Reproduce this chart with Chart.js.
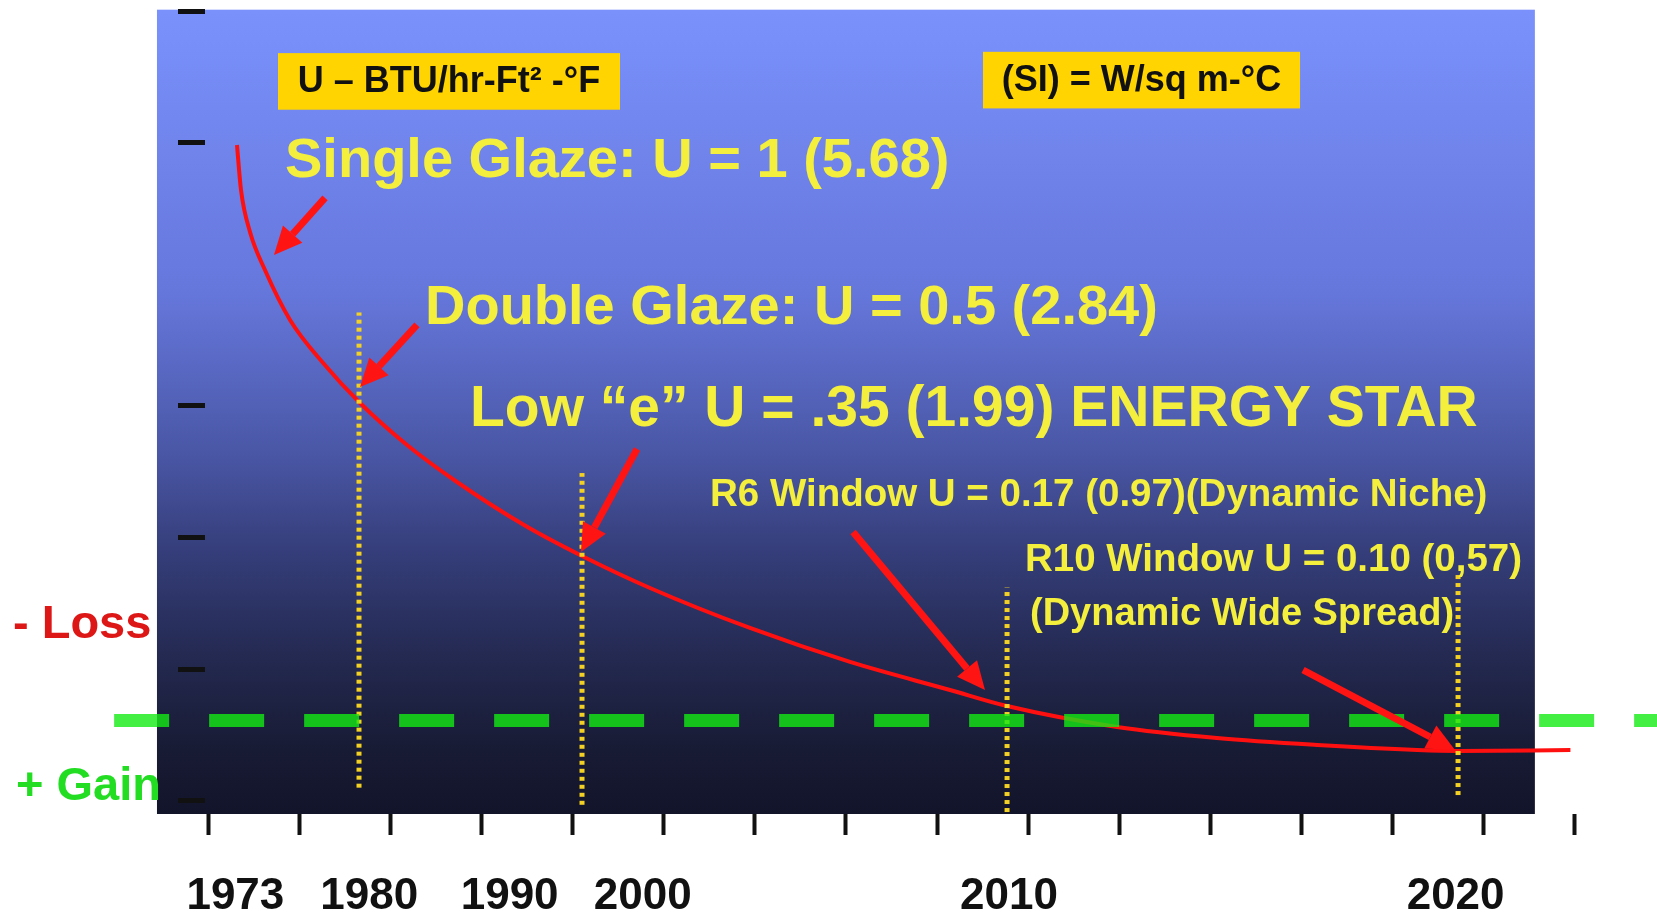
<!DOCTYPE html>
<html>
<head>
<meta charset="utf-8">
<script src="https://cdn.jsdelivr.net/npm/chart.js@4/dist/chart.umd.min.js"></script>
<style>
  html, body { margin: 0; padding: 0; background: #fff; }
  #wrap { width: 1657px; height: 915px; position: relative; }
</style>
</head>
<body>
<div id="wrap"><canvas id="glazeChart"></canvas></div>
<script>
// x is in "tick steps" along the bottom axis, y in steps of the left dashes
const yearLabels = ["1973", "1980", "1990", "2000", "2010", "2020"];
const yearLabelAt = [0.3, 1.77, 3.31, 4.77, 8.79, 13.69];
const xTickValues = [0, 1, 2, 3, 4, 5, 6, 7, 8, 9, 10, 11, 12, 13, 14, 15];
const yTickValues = [0, 1, 2, 3, 5, 6];

// window heat loss curve
const curveX = [0.318, 0.362, 0.461, 0.625, 0.900, 1.273, 1.668, 2.184, 2.732, 3.468, 4.104, 4.850, 5.947, 7.045, 8.142, 8.768, 9.975, 11.07, 12.17, 13.27, 13.71, 14.95];
const curveY = [4.982, 4.640, 4.321, 4.032, 3.653, 3.318, 3.022, 2.703, 2.422, 2.095, 1.860, 1.617, 1.313, 1.055, 0.842, 0.720, 0.561, 0.477, 0.424, 0.386, 0.379, 0.386];

// loss / gain boundary
const breakEven = 0.61;
const breakEvenFrom = -1.03;
const breakEvenTo = 15.9;

// dotted year markers
const markerX = [1.657, 4.104, 8.768, 13.717];
const markerTop = [3.71, 2.49, 1.62, 1.72];
const markerBottom = [0.10, -0.03, -0.085, 0.044];

const notes = [
    { text: "Single Glaze: U = 1 (5.68)", x: 0.845, y: 4.86, size: 56 },
    { text: "Double Glaze: U = 0.5 (2.84)", x: 2.381, y: 3.736, size: 56 },
    { text: "Low \u201ce\u201d U = .35 (1.99) ENERGY STAR", x: 2.875, y: 2.969, size: 57 },
    { text: "R6 Window U = 0.17 (0.97)(Dynamic Niche)", x: 5.509, y: 2.323, size: 38.5 },
    { text: "R10 Window U = 0.10 (0,57)", x: 8.965, y: 1.83, size: 38.5 },
    { text: "(Dynamic Wide Spread)", x: 9.02, y: 1.412, size: 38 }
];

const unitBoxes = [
    { text: "U \u2013 BTU/hr-Ft\u00b2 -\u00b0F", x1: 0.768, x2: 4.521, y1: 5.68, y2: 5.25 },
    { text: "(SI) = W/sq m-\u00b0C", x1: 8.504, x2: 11.983, y1: 5.69, y2: 5.26 }
];

const arrows = [
    [1.284, 4.58, 0.724, 4.146],
    [2.293, 3.615, 1.668, 3.144],
    [4.708, 2.673, 4.093, 1.890],
    [7.078, 2.042, 8.526, 0.842],
    [12.016, 0.994, 13.684, 0.386]
];

const FONT = '"Liberation Sans", Arial, sans-serif';

const curve = curveX.map((x, i) => ({ x: x, y: curveY[i] }));

const markerSets = markerX.map((x, i) => ({
    data: [{ x: x, y: markerBottom[i] }, { x: x, y: markerTop[i] }],
    borderColor: "#f2d024",
    borderWidth: 5,
    borderDash: [4, 4],
    pointRadius: 0,
    clip: false
}));

const slidePlugin = {
    id: "slide",
    beforeDraw(chart) {
        const ctx = chart.ctx;
        const xs = chart.scales.x, ys = chart.scales.y;
        const left = xs.getPixelForValue(-0.56), right = xs.getPixelForValue(14.56);
        const top = ys.getPixelForValue(6.01), bottom = ys.getPixelForValue(-0.1);
        const grad = ctx.createLinearGradient(0, top, 0, bottom);
        grad.addColorStop(0, "#7a91fc");
        grad.addColorStop(0.35, "#6677dc");
        grad.addColorStop(0.55, "#4a57a6");
        grad.addColorStop(0.68, "#343d78");
        grad.addColorStop(0.8, "#242a52");
        grad.addColorStop(0.92, "#181b34");
        grad.addColorStop(1, "#12142a");
        ctx.save();
        ctx.fillStyle = grad;
        ctx.fillRect(left, top, right - left, bottom - top);
        ctx.restore();
    },
    afterDatasetsDraw(chart) {
        const ctx = chart.ctx;
        const xs = chart.scales.x, ys = chart.scales.y;
        const px = v => xs.getPixelForValue(v);
        const py = v => ys.getPixelForValue(v);
        ctx.save();

        // arrows
        ctx.strokeStyle = "#ff1414";
        ctx.fillStyle = "#ff1414";
        ctx.lineWidth = 7;
        arrows.forEach(a => {
            const x1 = px(a[0]), y1 = py(a[1]), x2 = px(a[2]), y2 = py(a[3]);
            const ang = Math.atan2(y2 - y1, x2 - x1);
            const head = 28, half = 13;
            const bx = x2 - head * Math.cos(ang), by = y2 - head * Math.sin(ang);
            ctx.beginPath();
            ctx.moveTo(x1, y1);
            ctx.lineTo(bx, by);
            ctx.stroke();
            ctx.beginPath();
            ctx.moveTo(x2, y2);
            ctx.lineTo(bx + half * Math.sin(ang), by - half * Math.cos(ang));
            ctx.lineTo(bx - half * Math.sin(ang), by + half * Math.cos(ang));
            ctx.closePath();
            ctx.fill();
        });

        // unit boxes
        unitBoxes.forEach(b => {
            const x1 = px(b.x1), x2 = px(b.x2), y1 = py(b.y1), y2 = py(b.y2);
            ctx.fillStyle = "#ffd400";
            ctx.fillRect(x1, y1, x2 - x1, y2 - y1);
            ctx.fillStyle = "#111";
            ctx.font = "bold 36px " + FONT;
            ctx.textAlign = "center";
            ctx.textBaseline = "middle";
            ctx.fillText(b.text, (x1 + x2) / 2, (y1 + y2) / 2 + 1);
        });

        // yellow notes
        ctx.textAlign = "left";
        ctx.textBaseline = "middle";
        ctx.fillStyle = "#f3ef3c";
        notes.forEach(n => {
            ctx.font = "bold " + n.size + "px " + FONT;
            ctx.fillText(n.text, px(n.x), py(n.y));
        });

        // loss / gain
        ctx.font = "bold 47px " + FONT;
        ctx.fillStyle = "#dd1616";
        ctx.fillText("- Loss", px(-2.14), py(1.336));
        ctx.fillStyle = "#22dd22";
        ctx.fillText("+ Gain", px(-2.107), py(0.105));
        ctx.restore();
    }
};

new Chart("glazeChart", {
    type: "line",
    data: {
        datasets: [
            {
                data: [{ x: breakEvenFrom, y: breakEven }, { x: breakEvenTo, y: breakEven }],
                borderColor: "rgba(20,235,20,0.8)",
                borderWidth: 13,
                borderDash: [55, 40],
                pointRadius: 0,
                clip: false
            },
            ...markerSets,
            {
                data: curve,
                borderColor: "#ff1010",
                borderWidth: 4,
                cubicInterpolationMode: "monotone",
                pointRadius: 0,
                clip: false
            }
        ]
    },
    options: {
        responsive: true,
        maintainAspectRatio: false,
        animation: false,
        layout: { padding: { top: 11, left: 0, right: 0, bottom: 0 } },
        plugins: {
            legend: { display: false },
            tooltip: { enabled: false }
        },
        scales: {
            x: {
                type: "linear",
                min: -0.033,
                max: 15.9,
                afterBuildTicks: s => { s.ticks = xTickValues.map(v => ({ value: v })); },
                afterFit: s => { s.height = 21; },
                grid: { drawOnChartArea: false, drawTicks: true, tickLength: 21, tickWidth: 4, tickColor: "#111" },
                border: { display: false },
                ticks: { display: false }
            },
            x2: {
                type: "linear",
                position: "bottom",
                min: -0.033,
                max: 15.9,
                afterBuildTicks: s => { s.ticks = yearLabelAt.map(v => ({ value: v })); },
                afterFit: s => { s.height = 80; },
                grid: { display: false, drawTicks: false },
                border: { display: false },
                ticks: {
                    padding: 35,
                    maxRotation: 0,
                    autoSkip: false,
                    color: "#111",
                    font: { family: FONT, size: 44, weight: "bold" },
                    callback: (v, i) => yearLabels[i]
                }
            },
            y: {
                type: "linear",
                min: -0.1,
                max: 6,
                afterBuildTicks: s => { s.ticks = yTickValues.map(v => ({ value: v })); },
                afterFit: s => { s.width = 205; },
                grid: { drawOnChartArea: false, drawTicks: true, tickLength: 27, tickWidth: 5, tickColor: "#111" },
                border: { display: false },
                ticks: { display: false }
            }
        }
    },
    plugins: [slidePlugin]
});
</script>
</body>
</html>
